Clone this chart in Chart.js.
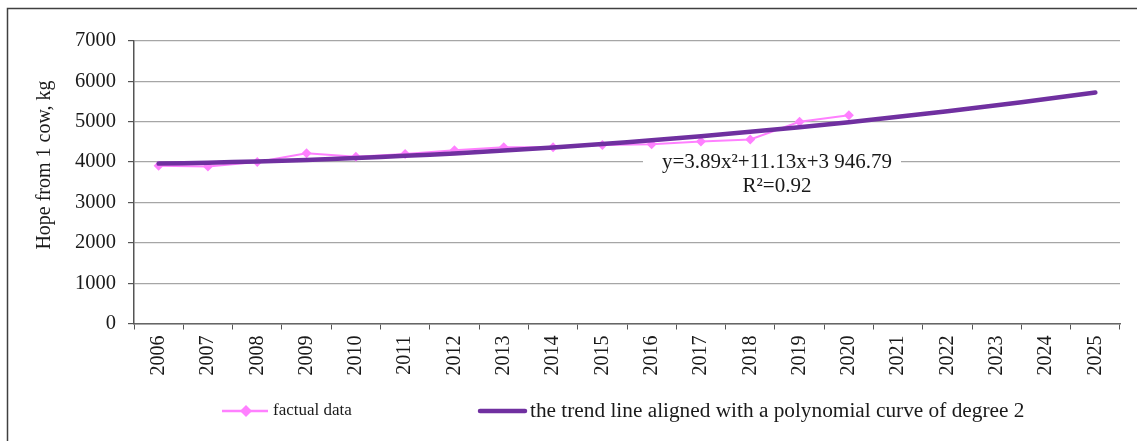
<!DOCTYPE html>
<html>
<head>
<meta charset="utf-8">
<script src="https://cdn.jsdelivr.net/npm/chart.js@4.4.1/dist/chart.umd.min.js"></script>
<style>
  html, body { margin: 0; padding: 0; background: #fff; }
  #wrap { width: 1137px; height: 441px; position: relative; }
</style>
</head>
<body>
<div id="wrap"><canvas id="milk"></canvas></div>
<script>
const years = ["2006", "2007", "2008", "2009", "2010", "2011", "2012", "2013", "2014", "2015",
  "2016", "2017", "2018", "2019", "2020", "2021", "2022", "2023", "2024", "2025"];
const factualData = [3910, 3890, 4000, 4220, 4130, 4200, 4290, 4370, 4370, 4420,
  4440, 4510, 4560, 5000, 5160];
const trendData = [3962, 3985, 4015, 4054, 4100, 4154, 4215, 4285, 4362, 4447,
  4540, 4641, 4749, 4865, 4989, 5121, 5260, 5407, 5563, 5725];
const yTicks = [0, 1000, 2000, 3000, 4000, 5000, 6000, 7000];

const serif = "'Liberation Serif', 'DejaVu Serif', serif";
const pink = "#ff80ff";
const purple = "#7030a0";

// frame, y title, trend equation and the legend
const extras = {
  id: "extras",
  beforeDraw(chart) {
    const ctx = chart.ctx;
    ctx.save();
    ctx.strokeStyle = "#404040";
    ctx.lineWidth = 1.5;
    ctx.strokeRect(7.5, 8.5, 1200, 500);
    ctx.restore();
  },
  afterDraw(chart) {
    const ctx = chart.ctx;
    ctx.save();
    ctx.fillStyle = "#1a1a1a";

    // y axis title
    ctx.save();
    ctx.translate(45, 165);
    ctx.rotate(-Math.PI / 2);
    ctx.font = "20px " + serif;
    ctx.textAlign = "center";
    ctx.textBaseline = "middle";
    ctx.fillText("Hope from 1 cow, kg", 0, 0);
    ctx.restore();

    // equation label
    ctx.fillStyle = "#fff";
    ctx.fillRect(643, 151, 258, 46);
    ctx.fillStyle = "#1a1a1a";
    ctx.font = "21px " + serif;
    ctx.textAlign = "center";
    ctx.textBaseline = "middle";
    ctx.fillText("y=3.89x\u00b2+11.13x+3 946.79", 777, 162);
    ctx.fillText("R\u00b2=0.92", 777, 186);

    // legend
    ctx.lineCap = "butt";
    ctx.strokeStyle = pink;
    ctx.lineWidth = 2.5;
    ctx.beginPath();
    ctx.moveTo(222, 411);
    ctx.lineTo(268, 411);
    ctx.stroke();
    ctx.fillStyle = pink;
    ctx.beginPath();
    ctx.moveTo(246, 405);
    ctx.lineTo(252, 411);
    ctx.lineTo(246, 417);
    ctx.lineTo(240, 411);
    ctx.closePath();
    ctx.fill();

    ctx.strokeStyle = purple;
    ctx.lineWidth = 4.5;
    ctx.lineCap = "round";
    ctx.beginPath();
    ctx.moveTo(480, 411);
    ctx.lineTo(525, 411);
    ctx.stroke();

    ctx.fillStyle = "#1a1a1a";
    ctx.textAlign = "left";
    ctx.textBaseline = "middle";
    ctx.font = "17px " + serif;
    ctx.fillText("factual data", 273, 411);
    ctx.font = "21.3px " + serif;
    ctx.fillText("the trend line aligned with a polynomial curve of degree 2", 530, 411);
    ctx.restore();
  }
};

new Chart(document.getElementById("milk"), {
  type: "line",
  data: {
    labels: years,
    datasets: [
      {
        label: "the trend line aligned with a polynomial curve of degree 2",
        data: trendData,
        borderColor: purple,
        borderWidth: 4.5,
        borderCapStyle: "round",
        pointRadius: 0,
        tension: 0.4,
        order: 1
      },
      {
        label: "factual data",
        data: factualData,
        borderColor: pink,
        backgroundColor: pink,
        borderWidth: 2,
        pointStyle: "rectRot",
        pointRadius: 5,
        pointBorderWidth: 0,
        tension: 0,
        order: 2
      }
    ]
  },
  options: {
    responsive: true,
    maintainAspectRatio: false,
    animation: false,
    layout: { padding: { left: 7, top: 41, right: 17, bottom: 0 } },
    plugins: {
      legend: { display: false },
      tooltip: { enabled: false }
    },
    scales: {
      x: {
        offset: true,
        grid: {
          offset: true,
          drawOnChartArea: false,
          tickLength: 6,
          tickColor: "#555"
        },
        border: { color: "#666", width: 1.5 },
        ticks: {
          minRotation: 90,
          maxRotation: 90,
          padding: 6,
          color: "#1a1a1a",
          font: { family: serif, size: 20 }
        },
        afterFit(scale) { scale.height = 117.5; }
      },
      y: {
        min: 0,
        max: 7000,
        afterBuildTicks(scale) { scale.ticks = yTicks.map(v => ({ value: v })); },
        grid: {
          color: "#a6a6a6",
          lineWidth: 1.2,
          tickLength: 6,
          tickColor: "#555"
        },
        border: { color: "#555", width: 1.5 },
        ticks: {
          padding: 12,
          color: "#1a1a1a",
          font: { family: serif, size: 20.5 },
          callback: (v) => String(v)
        },
        afterFit(scale) { scale.width = 127; }
      }
    }
  },
  plugins: [extras]
});
</script>
</body>
</html>
